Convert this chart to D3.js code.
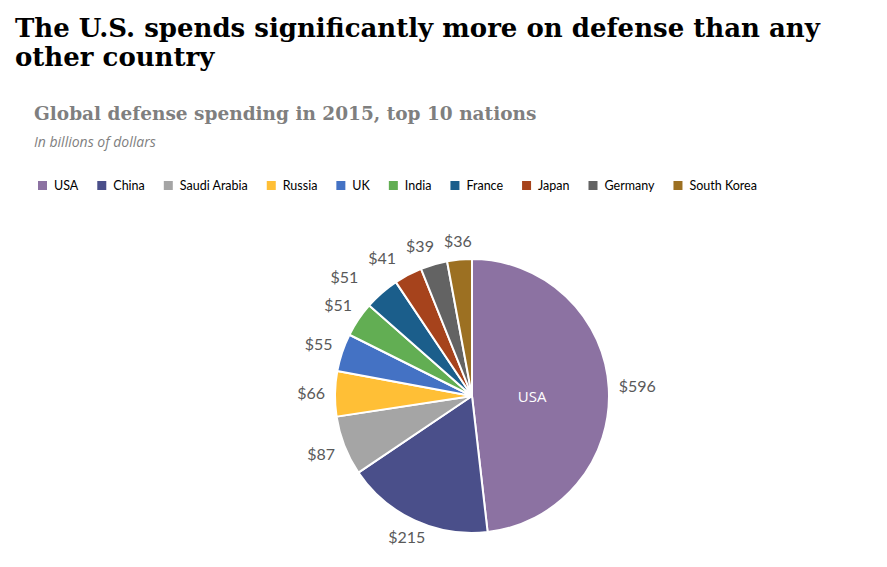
<!DOCTYPE html>
<html>
<head>
<meta charset="utf-8">
<script src="https://cdn.jsdelivr.net/npm/d3@7"></script>
<style>
  html, body { margin: 0; padding: 0; background: #ffffff; }
  svg { display: block; }
</style>
</head>
<body>
<svg id="chart" width="887" height="567"></svg>
<script>
// ---- Data ----
const countries = ["USA", "China", "Saudi Arabia", "Russia", "UK", "India", "France", "Japan", "Germany", "South Korea"];
const spending = [596, 215, 87, 66, 55, 51, 51, 41, 39, 36];
const colors = ["#8c72a2", "#4a4f8a", "#a5a5a5", "#ffbf36", "#4472c4", "#62ae53", "#1b5e8b", "#a6431c", "#636363", "#9c7022"];
const titleLines = ["The U.S. spends significantly more on defense than any", "other country"];
const subtitle = "Global defense spending in 2015, top 10 nations";
const unitNote = "In billions of dollars";

const svg = d3.select("#chart");

// ---- Titles ----
const titleG = svg.append("g");
titleLines.forEach((t, i) => {
  titleG.append("text")
    .attr("x", 15).attr("y", 37 + i * 29)
    .attr("font-family", "'DejaVu Serif', Georgia, serif")
    .attr("font-weight", "bold")
    .attr("font-size", 26)
    .attr("fill", "#000")
    .text(t);
});
svg.append("text")
  .attr("x", 34).attr("y", 120)
  .attr("font-family", "'DejaVu Serif', Georgia, serif")
  .attr("font-weight", "bold")
  .attr("font-size", 18.5)
  .attr("fill", "#7f7f7f")
  .text(subtitle);
svg.append("text")
  .attr("x", 34).attr("y", 147)
  .attr("font-family", "'Open Sans', sans-serif")
  .attr("font-style", "italic")
  .attr("font-size", 14)
  .attr("fill", "#7f7f7f")
  .text(unitNote);

// ---- Legend ----
const legend = svg.append("g").attr("transform", "translate(38,181)");
let lx = 0;
countries.forEach((c, i) => {
  const g = legend.append("g").attr("transform", `translate(${lx},0)`);
  g.append("rect").attr("width", 9).attr("height", 9).attr("fill", colors[i]);
  const t = g.append("text")
    .attr("x", 16).attr("y", 9)
    .attr("font-family", "Lato, 'Open Sans', sans-serif")
    .attr("font-size", 12.5)
    .attr("fill", "#000")
    .text(c);
  lx += 16 + t.node().getComputedTextLength() + 19;
});

// ---- Pie ----
const cx = 472, cy = 396, r = 137;
const color = d3.scaleOrdinal().domain(countries).range(colors);
const data = countries.map((c, i) => ({ country: c, value: spending[i] }));
const pie = d3.pie().value(d => d.value).sort(null);
const arcs = pie(data);
const arc = d3.arc().innerRadius(0).outerRadius(r);

const pieG = svg.append("g").attr("transform", `translate(${cx},${cy})`);
pieG.selectAll("path")
  .data(arcs)
  .join("path")
  .attr("d", arc)
  .attr("fill", d => color(d.data.country))
  .attr("stroke", "#fff")
  .attr("stroke-width", 2)
  .attr("stroke-linejoin", "round");

// Inner label for USA
const inner = d3.arc().innerRadius(0).outerRadius(r * 0.88);
pieG.append("text")
  .attr("transform", `translate(${inner.centroid(arcs[0])})`)
  .attr("text-anchor", "middle")
  .attr("dy", "0.65em")
  .attr("font-family", "'Open Sans', sans-serif")
  .attr("font-size", 15)
  .attr("fill", "#fff")
  .text(countries[0]);

// Outside value labels
const fmt = v => "$" + v;
const labelFont = 16, lh = 16, gap = 10;
const labels = pieG.selectAll("text.val")
  .data(arcs)
  .join("text")
  .attr("class", "val")
  .attr("text-anchor", "middle")
  .attr("dy", "0.35em")
  .attr("font-family", "Lato, 'Open Sans', sans-serif")
  .attr("font-size", labelFont)
  .attr("fill", "#595959")
  .text(d => fmt(d.data.value));

const pos = [];
labels.each(function (d) {
  const w = this.getComputedTextLength();
  const a = (d.startAngle + d.endAngle) / 2;
  const dx = Math.sin(a), dy = -Math.cos(a);
  const px = dx * (r + gap), py = dy * (r + gap);
  const t = Math.min(Math.abs(dx) > 1e-6 ? (w / 2) / Math.abs(dx) : Infinity,
                     Math.abs(dy) > 1e-6 ? (lh / 2) / Math.abs(dy) : Infinity);
  pos.push({ x: px + dx * t, y: py + dy * t, w });
});
// Resolve overlaps among upper-left labels (walk from last slice backwards)
for (let i = pos.length - 2; i >= 1; i--) {
  const a = pos[i], b = pos[i + 1];
  if (Math.abs(a.y - b.y) < lh + 4) {
    const maxX = b.x - b.w / 2 - 10 - a.w / 2;
    if (a.x > maxX) a.x = maxX;
  }
}
labels.attr("x", (d, i) => pos[i].x).attr("y", (d, i) => pos[i].y);
</script>
</body>
</html>
